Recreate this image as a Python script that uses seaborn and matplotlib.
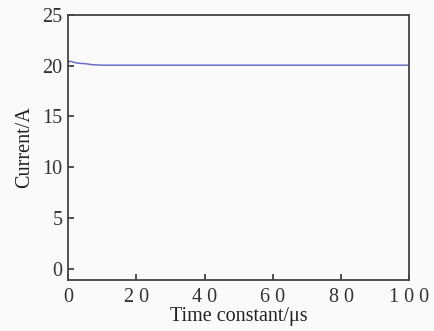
import matplotlib
matplotlib.use("Agg")
import matplotlib.pyplot as plt
import seaborn as sns
import pandas as pd

time_us = [0, 0.5, 1, 2, 3, 4, 5, 6, 7, 8, 10, 15, 20, 30, 40, 50, 60, 70, 80, 90, 100]
current_a = [20.3, 20.45, 20.4, 20.3, 20.25, 20.22, 20.2, 20.15, 20.1, 20.08, 20.05, 20.05, 20.05, 20.05, 20.05, 20.05, 20.05, 20.05, 20.05, 20.05, 20.05]
x_ticks = [0, 20, 40, 60, 80, 100]
x_tick_labels = ["0", "2 0", "4 0", "6 0", "8 0", "1 0 0"]
y_ticks = [0, 5, 10, 15, 20, 25]

sns.set_theme(style="ticks")
plt.rcParams['font.family'] = ['Liberation Serif', 'DejaVu Serif']

df = pd.DataFrame({"t": time_us, "i": current_a})
fig = plt.figure(figsize=(4.34, 3.31), dpi=100)
fig.patch.set_facecolor("#fafafa")
ax = fig.add_axes([0.157, 0.154, 0.786, 0.801])
ax.set_facecolor("#fafafa")
sns.lineplot(data=df, x="t", y="i", ax=ax, color="#6e6ec8", linewidth=1.1)
ax.set_xlim(0, 100)
ax.set_ylim(-1.1, 25)
ax.set_xticks(x_ticks)
ax.set_yticks(y_ticks)
ax.set_xticklabels(x_tick_labels)
ax.tick_params(direction="in", length=4, width=1.2, labelsize=14.5, colors="#333333", pad=4)
ax.tick_params(axis="x", pad=6)
for s in ax.spines.values():
    s.set_linewidth(1.3)
    s.set_color("#444444")
ax.set_xlabel("Time constant/μs", fontsize=14.5, labelpad=0, color="#222222")
ax.set_ylabel("Current/A", fontsize=14.5, labelpad=6, color="#222222")
fig.savefig("out.png", dpi=100, facecolor=fig.get_facecolor())
